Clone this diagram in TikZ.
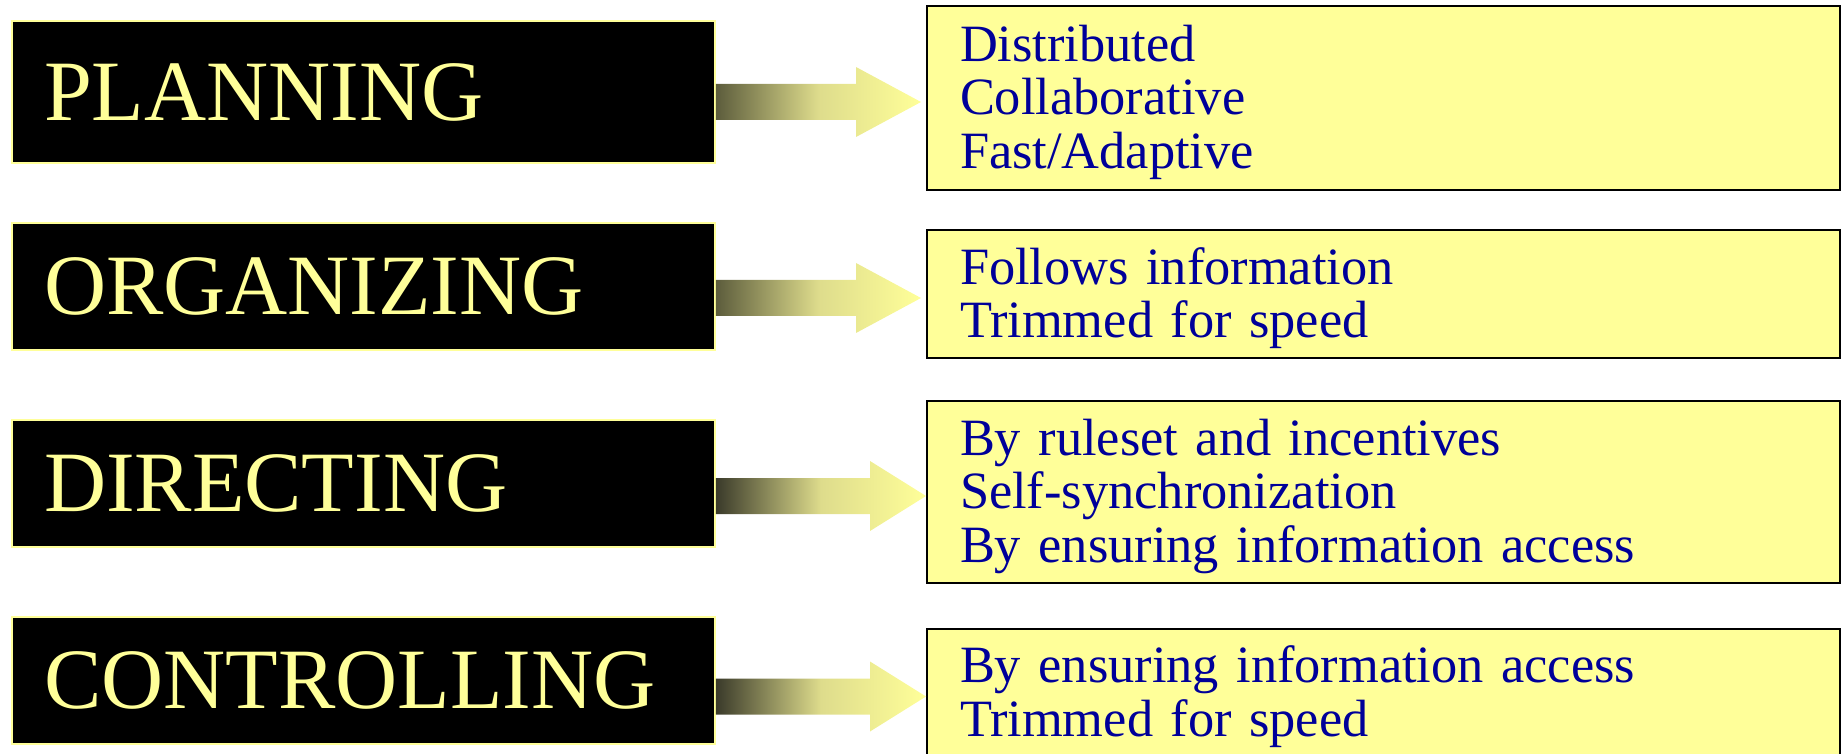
\documentclass[tikz,border=0pt]{standalone}
\usepackage{fontspec}
\setmainfont{Liberation Serif}
\usetikzlibrary{calc,shadows}

\definecolor{paleyel}{HTML}{FFFF99}
\definecolor{navytxt}{HTML}{000099}
\definecolor{oliveA}{HTML}{5C5C3C}
\definecolor{oliveB}{HTML}{3A3A2A}
\definecolor{midyel}{HTML}{DEDC8C}

\tikzset{
  task/.style={draw=paleyel, line width=0.75pt, fill=black, text=paleyel,
    text width=319.5pt, align=left, inner xsep=16pt,
    font=\fontsize{43pt}{43pt}\selectfont},
  trait/.style={draw=black, line width=1pt, fill=paleyel, text=navytxt,
    text width=423.5pt, align=left, inner xsep=16.5pt, inner ysep=0pt,
    font=\fontsize{26.2pt}{26.75pt}\selectfont,
    execute at begin node={\rule{0pt}{22.5pt}},
    drop shadow={shadow xshift=0.7pt, shadow yshift=-0.7pt, fill=black!45, opacity=1}},
}

% block arrow: from, to, head length, gap, dark colour
\newcommand{\flowarrow}[5]{%
  \path[left color=#5, right color=paleyel, middle color=midyel]
    let \p1=(#1.east), \p2=($(#2.west)+(-#4,-2pt)$) in
    (\x1,\y2+9pt) -- (\x2-#3,\y2+9pt) -- (\x2-#3,\y2+17.5pt) -- (\x2,\y2)
    -- (\x2-#3,\y2-17.5pt) -- (\x2-#3,\y2-9pt) -- (\x1,\y2-9pt) -- cycle;
}

\begin{document}
\begin{tikzpicture}[x=0.5pt,y=-0.5pt]
  \useasboundingbox (0,0) rectangle (1843,754);
  \clip (0,0) rectangle (1843,754);

  \node (plan) [task, minimum height=71pt] at (363.5,92) {PLANNING};
  \node (org) [task, minimum height=63.5pt] at (363.5,286.5) {ORGANIZING};
  \node (dir) [task, minimum height=63.5pt] at (363.5,483.5) {DIRECTING};
  \node (ctrl) [task, minimum height=63.5pt] at (363.5,680.5) {CONTROLLING};

  \node (plannote) [trait, minimum height=92pt] at (1383.5,98)
    {Distributed\\Collaborative\\Fast/Adaptive};
  \node (orgnote) [trait, minimum height=64pt] at (1383.5,294)
    {Follows information\\Trimmed for speed};
  \node (dirnote) [trait, minimum height=91pt] at (1383.5,492)
    {By ruleset and incentives\\Self-synchronization\\By ensuring information access};
  \node (ctrlnote) [trait, minimum height=63.5pt] at (1383.5,692.5)
    {By ensuring information access\\Trimmed for speed};

  \flowarrow{plan}{plannote}{32.5pt}{2.5pt}{oliveA}
  \flowarrow{org}{orgnote}{32.5pt}{2.5pt}{oliveA}
  \flowarrow{dir}{dirnote}{28pt}{0pt}{oliveB}
  \flowarrow{ctrl}{ctrlnote}{28pt}{0pt}{oliveB}
\end{tikzpicture}
\end{document}
